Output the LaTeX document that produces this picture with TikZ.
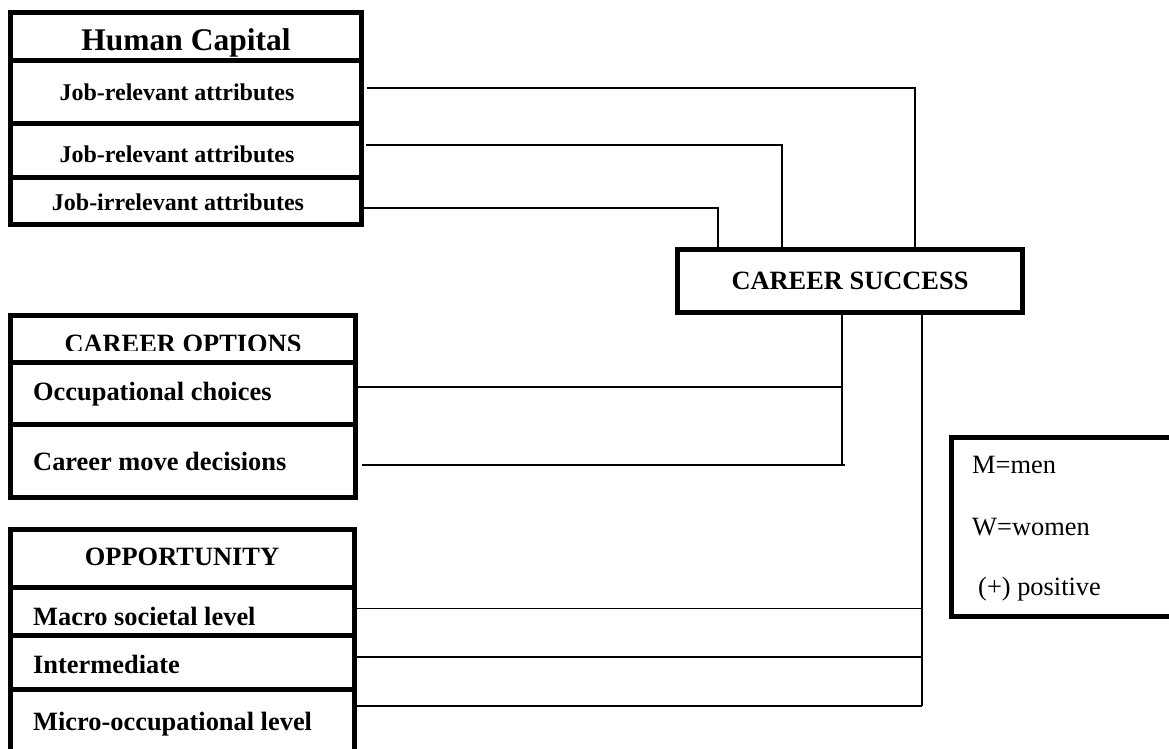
\documentclass[tikz,border=0pt]{standalone}
\usepackage{fontspec}
\setmainfont{Liberation Serif}
\begin{document}
\begin{tikzpicture}[x=1pt,y=-1pt,
  box/.style={line width=5pt},
  conn/.style={line width=1.5pt},
  bigtitle/.style={inner sep=0pt,anchor=base,font=\fontsize{31.5}{36}\selectfont\bfseries},
  attr/.style={inner sep=0pt,anchor=base,font=\fontsize{24}{28}\selectfont\bfseries},
  ctitle/.style={inner sep=0pt,anchor=base,font=\fontsize{26.4}{30}\selectfont\bfseries},
  rowtext/.style={inner sep=0pt,anchor=base west,font=\fontsize{26.4}{30}\selectfont\bfseries},
  legtext/.style={inner sep=0pt,anchor=base west,font=\fontsize{26.4}{30}\selectfont},
  successbox/.style={draw,line width=5pt,minimum width=345pt,minimum height=63pt,inner sep=0pt,
     font=\fontsize{26.4}{30}\selectfont\bfseries}
]
\useasboundingbox (0,0) rectangle (1169,748);
\fill[white] (0,0) rectangle (1169,748);
\clip (0,0) rectangle (1169,748);

% ---------- Human Capital ----------
\draw[box] (10.5,12.5) rectangle (361.5,224.5);
\draw[box] (10.5,60.5) -- (361.5,60.5);
\draw[box] (10.5,123.5) -- (361.5,123.5);
\draw[box] (10.5,177.5) -- (361.5,177.5);
\node[bigtitle] (hct) at (186,50) {Human Capital};
\node[attr] (hc1) at (177,100.7) {Job-relevant attributes};
\node[attr] (hc2) at (177,162.7) {Job-relevant attributes};
\node[attr] (hc3) at (178,210) {Job-irrelevant attributes};

% ---------- Career options ----------
\draw[box] (10.5,315.5) rectangle (355.5,497.5);
\draw[box] (10.5,362) -- (355.5,362);
\draw[box] (10.5,424) -- (355.5,424);
\begin{scope}
  \clip (13,318) rectangle (353,350);
  \node[ctitle] (cot) at (183,352.5) {CAREER OPTIONS};
\end{scope}
\node[rowtext] (co1) at (33,400.7) {Occupational choices};
\node[rowtext] (co2) at (33,470) {Career move decisions};

% ---------- Opportunity ----------
\draw[box] (10.5,770) -- (10.5,529.5) -- (354,529.5) -- (354,770);
\draw[box] (10.5,587) -- (354,587);
\draw[box] (10.5,635.5) -- (354,635.5);
\draw[box] (10.5,689.5) -- (354,689.5);
\node[ctitle] (opt) at (182,565) {OPPORTUNITY};
\node[rowtext] (op1) at (33,625) {Macro societal level};
\node[rowtext] (op2) at (33,673) {Intermediate};
\node[rowtext] (op3) at (33,730) {Micro-occupational level};

% ---------- Career success ----------
\node[successbox] (cs) at (850,281) {CAREER SUCCESS};

% ---------- Legend ----------
\draw[box] (1190,437.5) -- (951.5,437.5) -- (951.5,616.5) -- (1190,616.5);
\node[legtext] (lg1) at (972,473) {M=men};
\node[legtext] (lg2) at (972,535) {W=women};
\node[legtext] (lg3) at (978,595) {(+) positive};

% ---------- Connectors ----------
\coordinate (t1) at ([xshift=65pt]cs.north);
\coordinate (t2) at ([xshift=-68pt]cs.north);
\coordinate (t3) at ([xshift=-132pt]cs.north);
\coordinate (s1) at ([xshift=-8pt]cs.south);
\coordinate (s2) at ([xshift=72pt]cs.south);

\coordinate (a1) at (367,88);
\coordinate (a2) at (366,145);
\coordinate (a3) at (362,208);
\draw[conn] (a1) -| (t1);
\draw[conn] (a2) -| (t2);
\draw[conn] (a3) -| (t3);

\coordinate (b1) at (355,387);
\coordinate (b2) at (362,465);
\coordinate (bj) at (845,465);
\draw[conn] (b1) -| (s1);
\draw[conn] (s1) -- (s1 |- b2);
\draw[conn] (b2) -- (bj);

\coordinate (c1) at (356,608.5);
\coordinate (c2) at (356,657);
\coordinate (c3) at (356,706);
\draw[conn] (s2) -- (s2 |- c3);
\draw[conn] (c1) -- (c1 -| s2);
\draw[conn] (c2) -- (c2 -| s2);
\draw[conn] (c3) -- (c3 -| s2);
\end{tikzpicture}
\end{document}
